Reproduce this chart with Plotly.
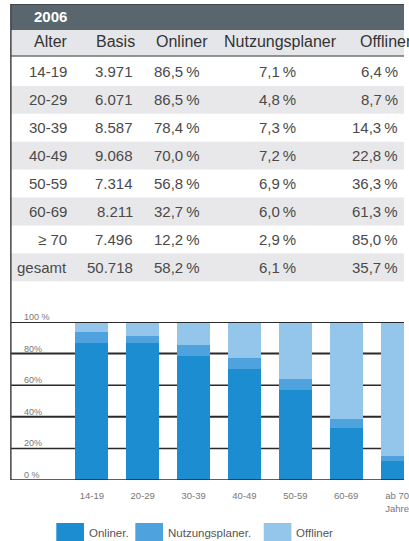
import plotly.graph_objects as go

# ---- data ----
year_title = "2006"
table_headers = ["Alter", "Basis", "Onliner", "Nutzungsplaner", "Offliner"]
age_groups = ["14-19", "20-29", "30-39", "40-49", "50-59", "60-69", "\u2265 70", "gesamt"]
basis = ["3.971", "6.071", "8.587", "9.068", "7.314", "8.211", "7.496", "50.718"]
onliner = [86.5, 86.5, 78.4, 70.0, 56.8, 32.7, 12.2, 58.2]
nutzungsplaner = [7.1, 4.8, 7.3, 7.2, 6.9, 6.0, 2.9, 6.1]
offliner = [6.4, 8.7, 14.3, 22.8, 36.3, 61.3, 85.0, 35.7]

chart_categories = ["14-19", "20-29", "30-39", "40-49", "50-59", "60-69", "ab 70<br>Jahre"]
y_ticks = [100, 80, 60, 40, 20, 0]
y_tick_labels = ["100 %", "80%", "60%", "40%", "20%", "0 %"]
series_names = ["Onliner.", "Nutzungsplaner.", "Offliner"]

# ---- styles ----
W, H = 409, 541
C_ON, C_NU, C_OFF = "#1b8dd0", "#4ea2dd", "#94c6eb"
FONT = "Liberation Sans, Arial, sans-serif"
TXT = "#4a4a4a"


def px(x):
    return x / W


def py(y):
    return 1 - y / H


def pct(v):
    return f"{v:.1f}".replace(".", ",") + "\u2009%"


# chart geometry (pixels)
Y0, Y100 = 480, 322
X_LEFT = 11
CAT0, CAT_STEP = 93, 51.5

fig = go.Figure()
n = len(chart_categories)
idx = list(range(n))
chart_on = onliner[:n]
chart_nu = nutzungsplaner[:n]
chart_off = offliner[:n]
for name, vals, col in zip(series_names, [chart_on, chart_nu, chart_off], [C_ON, C_NU, C_OFF]):
    fig.add_trace(go.Bar(x=idx, y=vals, name=name, marker=dict(color=col, line=dict(width=0)),
                         showlegend=False, hoverinfo="skip"))

x_lo = (X_LEFT - CAT0) / CAT_STEP
x_hi = (W - CAT0) / CAT_STEP

shapes = []
ann = []

# title bar
shapes.append(dict(type="rect", xref="paper", yref="paper", x0=px(X_LEFT), x1=1, y0=py(30), y1=py(4),
                   fillcolor="#59666e", line=dict(width=0), layer="below"))
shapes.append(dict(type="line", xref="paper", yref="paper", x0=px(X_LEFT), x1=1, y0=py(4.5), y1=py(4.5),
                   line=dict(color="#3c464c", width=1)))
# header row
shapes.append(dict(type="rect", xref="paper", yref="paper", x0=px(X_LEFT), x1=1, y0=py(56), y1=py(30),
                   fillcolor="#e5e6ea", line=dict(width=0), layer="below"))
shapes.append(dict(type="line", xref="paper", yref="paper", x0=px(X_LEFT), x1=1, y0=py(56), y1=py(56),
                   line=dict(color="#707070", width=1.5)))
# row bands
ROW0, ROWH = 58, 27.9
for i in range(len(age_groups)):
    if i % 2 == 1:
        shapes.append(dict(type="rect", xref="paper", yref="paper", x0=px(X_LEFT), x1=1,
                           y0=py(ROW0 + ROWH * (i + 1)), y1=py(ROW0 + ROWH * i),
                           fillcolor="#e8e8eb", line=dict(width=0), layer="below"))
# left border
shapes.append(dict(type="line", xref="paper", yref="paper", x0=px(X_LEFT), x1=px(X_LEFT), y0=py(Y0), y1=py(4),
                   line=dict(color="#444", width=1.5)))

# gridlines
grid_w = {100: 2, 80: 2, 60: 1.5, 40: 2, 20: 1.5, 0: 1.5}
for t in y_ticks:
    shapes.append(dict(type="line", xref="paper", yref="y", x0=px(X_LEFT), x1=1, y0=t, y1=t,
                       line=dict(color="#2a2a2a", width=grid_w[t]),
                       layer="above" if t in (100, 0) else "below"))
for t, lab in zip(y_ticks, y_tick_labels):
    ann.append(dict(xref="paper", yref="y", x=px(22), y=t, text=lab, showarrow=False,
                    xanchor="left", yanchor="bottom", yshift=-2,
                    font=dict(family=FONT, size=9, color="#777")))

# title text
ann.append(dict(xref="paper", yref="paper", x=px(32), y=py(17), text="<b>" + year_title + "</b>",
                showarrow=False, xanchor="left", yanchor="middle",
                font=dict(family=FONT, size=15, color="white")))
# headers
head_x = [32, 95, 156, 225, 362]
for hx, h in zip(head_x, table_headers):
    ann.append(dict(xref="paper", yref="paper", x=px(hx), y=py(42), text=h, showarrow=False,
                    xanchor="left", yanchor="middle", font=dict(family=FONT, size=16, color="#333")))
# cells
col_right = [70, 137, 205, 302, 405]
for i in range(len(age_groups)):
    yc = py(ROW0 + ROWH * i + ROWH / 2)
    cells = [age_groups[i], basis[i], pct(onliner[i]), pct(nutzungsplaner[i]), pct(offliner[i])]
    for xr, c in zip(col_right, cells):
        ann.append(dict(xref="paper", yref="paper", x=px(xr), y=yc, text=c, showarrow=False,
                        xanchor="right", yanchor="middle", font=dict(family=FONT, size=15, color=TXT)))

# legend
leg = [(57, 85, 88), (137, 165, 168), (267, 295, 298)]
for (x0, x1, tx), name, col in zip(leg, series_names, [C_ON, C_NU, C_OFF]):
    shapes.append(dict(type="rect", xref="paper", yref="paper", x0=px(x0), x1=px(x1), y0=py(545), y1=py(523),
                       fillcolor=col, line=dict(width=0)))
    ann.append(dict(xref="paper", yref="paper", x=px(tx), y=py(533), text=name, showarrow=False,
                    xanchor="left", yanchor="middle", font=dict(family=FONT, size=11.5, color="#555")))

fig.update_layout(
    width=W, height=H, autosize=False,
    margin=dict(l=0, r=0, t=0, b=0),
    paper_bgcolor="white", plot_bgcolor="rgba(0,0,0,0)",
    barmode="stack", bargap=0.35,
    showlegend=False,
    shapes=shapes, annotations=ann,
    xaxis=dict(domain=[px(X_LEFT), 1], range=[x_lo, x_hi], tickmode="array", tickvals=idx,
               ticktext=chart_categories, showgrid=False, zeroline=False, showline=False,
               ticks="outside", ticklen=7, tickcolor="rgba(0,0,0,0)", ticklabeloverflow="allow",
               tickfont=dict(family=FONT, size=9.5, color="#777")),
    yaxis=dict(domain=[py(Y0), py(Y100)], range=[0, 100], showgrid=False, zeroline=False,
               showticklabels=False, showline=False),
)

fig.write_html("out.html", config={"displayModeBar": False},
               post_script="document.body.style.margin='0';document.body.style.overflow='hidden';")
